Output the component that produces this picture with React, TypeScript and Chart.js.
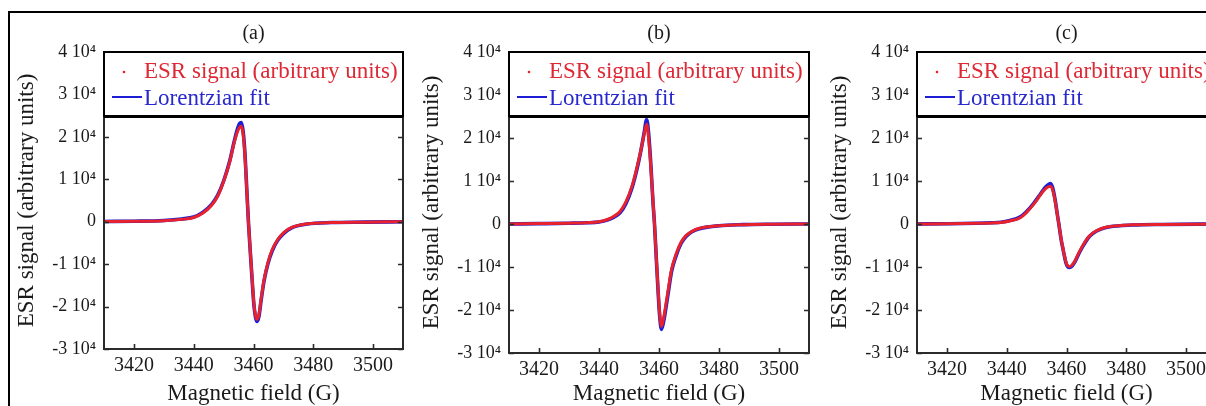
import React, { useEffect, useRef } from 'react';
import { Chart, registerables } from 'chart.js';

Chart.register(...registerables);

// ---- data ----
const xTicks = [3420, 3440, 3460, 3480, 3500];
const yTicks = [-30000, -20000, -10000, 0, 10000, 20000, 30000, 40000];
const xMin = 3410;
const xMax = 3510;
const yMin = -30000;
const yMax = 40000;

const panelTitles = ['(a)', '(b)', '(c)'];
const seriesLabels = ['ESR signal (arbitrary units)', 'Lorentzian fit'];
const xAxisTitle = 'Magnetic field (G)';
const yAxisTitle = 'ESR signal (arbitrary units)';

const fieldA = [3410, 3420, 3430, 3436, 3440, 3443, 3446, 3448, 3450, 3452, 3453.5, 3454.7, 3455.4, 3455.9, 3456.5, 3457.1, 3457.8, 3458.3, 3458.9, 3459.5, 3460.1, 3460.7, 3461.2, 3461.8, 3462.5, 3463.5, 3464.8, 3466.3, 3468.1, 3470.2, 3472.6, 3478, 3486, 3497, 3510];
const esrA = [50, 100, 250, 550, 1000, 2000, 3900, 6000, 9500, 14000, 18500, 21300, 22300, 22500, 20800, 16000, 6800, 0, -6600, -13000, -19000, -22200, -23000, -22000, -18400, -13800, -9700, -6500, -4200, -2500, -1400, -500, -200, -100, 0];
const fitA = [50, 120, 300, 650, 1100, 2200, 4100, 6200, 9600, 14200, 18800, 22000, 23200, 23400, 21500, 16500, 7000, 0, -6800, -13300, -19300, -22600, -23500, -22400, -18800, -14100, -10000, -6800, -4400, -2700, -1500, -550, -200, -100, 0];

const fieldB = [3410, 3420, 3430, 3436, 3440, 3443, 3445, 3447, 3449, 3451, 3452.7, 3454, 3455, 3455.9, 3456.6, 3457.3, 3458, 3458.5, 3459.1, 3459.7, 3460.2, 3460.8, 3461.5, 3462.9, 3464.2, 3465.7, 3467.3, 3469, 3471, 3473.5, 3480, 3488, 3498, 3510];
const esrB = [0, 100, 200, 300, 500, 1100, 1800, 2900, 5200, 8800, 13300, 17300, 20700, 23200, 19500, 13000, 5300, 0, -7800, -15200, -20500, -23800, -22000, -16000, -10500, -7000, -4300, -2700, -1700, -1000, -400, -150, -50, 0];
const fitB = [0, 80, 180, 280, 450, 950, 1600, 2600, 4800, 8400, 12900, 17200, 21000, 24300, 20600, 13600, 5000, 0, -8000, -15700, -21200, -24500, -22800, -16800, -11000, -7400, -4600, -2900, -1800, -1100, -400, -150, -50, 0];

const fieldC = [3410, 3420, 3430, 3435, 3438, 3441, 3444.4, 3446.5, 3448.9, 3450.8, 3452.2, 3453.5, 3454.7, 3455.5, 3456.2, 3456.9, 3457.5, 3458.2, 3459, 3459.8, 3460.4, 3461, 3461.8, 3462.9, 3464.2, 3465.7, 3467.3, 3469, 3471.5, 3474.5, 3482, 3492, 3510];
const esrC = [0, 50, 150, 250, 350, 700, 1400, 2600, 4500, 6300, 7600, 8500, 8800, 7600, 5300, 2300, -300, -3500, -6300, -8800, -9700, -9900, -9600, -8500, -6600, -4700, -3100, -2000, -1100, -600, -200, -100, 0];
const fitC = [0, 60, 170, 280, 400, 800, 1600, 2800, 4700, 6500, 7900, 8900, 9400, 8100, 5600, 2400, -300, -3600, -6400, -9000, -9900, -10100, -9800, -8700, -6800, -4900, -3200, -2100, -1200, -650, -250, -100, 0];

// ---- styles ----
const FONT = "'Liberation Serif', 'Times New Roman', serif";
const RED = 'rgb(232, 34, 44)';
const BLUE = 'rgb(30, 30, 215)';
const RED_TEXT = 'rgb(222, 40, 52)';
const BLUE_TEXT = 'rgb(40, 40, 205)';
const AXIS = '#2b2b2b';
const TEXT = '#1a1a1a';

const CANVAS_W = 400;
const CANVAS_H = 400;
const CANVAS_TOP = 12;
const Y_AXIS_W = 94;

type PanelProps = {
  title: string;
  field: number[];
  esr: number[];
  fit: number[];
  left: number;
  padRight: number;
  xH: number;
};

const fmtY = (v: number) => (v === 0 ? '0' : `${v / 10000} 10\u2074`);

function Panel({ title, field, esr, fit, left, padRight, xH }: PanelProps) {
  const ref = useRef<HTMLCanvasElement | null>(null);

  useEffect(() => {
    if (!ref.current) return;
    const framePlugin = {
      id: 'frameAndLegend',
      afterDatasetsDraw(chart: any) {
        const { ctx, chartArea: a, scales } = chart;
        ctx.save();
        // inner ticks
        const tl = 5;
        ctx.strokeStyle = AXIS;
        ctx.lineWidth = 1.6;
        ctx.beginPath();
        xTicks.forEach((v) => {
          const px = Math.round(scales.x.getPixelForValue(v)) + 0.5;
          ctx.moveTo(px, a.bottom);
          ctx.lineTo(px, a.bottom - tl);
          ctx.moveTo(px, a.top);
          ctx.lineTo(px, a.top + tl);
        });
        yTicks.forEach((v) => {
          const py = Math.round(scales.y.getPixelForValue(v)) + 0.5;
          ctx.moveTo(a.left, py);
          ctx.lineTo(a.left + tl, py);
          ctx.moveTo(a.right, py);
          ctx.lineTo(a.right - tl, py);
        });
        ctx.stroke();
        // plot frame
        ctx.lineWidth = 2;
        ctx.strokeRect(a.left, a.top, a.right - a.left, a.bottom - a.top);

        // legend box
        const lh = 64;
        ctx.fillStyle = '#ffffff';
        ctx.fillRect(a.left, a.top, a.right - a.left, lh);
        ctx.strokeStyle = '#000000';
        ctx.lineWidth = 2;
        ctx.strokeRect(a.left, a.top, a.right - a.left, lh);
        ctx.lineWidth = 1;
        ctx.beginPath();
        ctx.moveTo(a.left, a.top + lh + 1.5);
        ctx.lineTo(a.right, a.top + lh + 1.5);
        ctx.stroke();

        const ds = chart.data.datasets;
        // item 1: dot
        ctx.fillStyle = RED;
        ctx.beginPath();
        ctx.arc(a.left + 20, a.top + 20, 1.3, 0, Math.PI * 2);
        ctx.fill();
        // item 2: line
        ctx.strokeStyle = BLUE;
        ctx.lineWidth = 2;
        ctx.beginPath();
        ctx.moveTo(a.left + 8, a.top + 45);
        ctx.lineTo(a.left + 38, a.top + 45);
        ctx.stroke();

        ctx.font = `23px ${FONT}`;
        ctx.textBaseline = 'middle';
        ctx.textAlign = 'left';
        ctx.fillStyle = RED_TEXT;
        ctx.fillText(ds[0].label, a.left + 40, a.top + 20);
        ctx.fillStyle = BLUE_TEXT;
        ctx.fillText(ds[1].label, a.left + 40, a.top + 47);
        ctx.restore();
      },
    };

    const chart = new Chart(ref.current, {
      type: 'scatter',
      data: {
        datasets: [
          {
            label: seriesLabels[0],
            data: field.map((x, i) => ({ x, y: esr[i] })),
            showLine: true,
            borderColor: RED,
            backgroundColor: RED,
            borderWidth: 3,
            pointRadius: 0,
            cubicInterpolationMode: 'monotone',
          },
          {
            label: seriesLabels[1],
            data: field.map((x, i) => ({ x, y: fit[i] })),
            showLine: true,
            borderColor: BLUE,
            backgroundColor: BLUE,
            borderWidth: 3.6,
            pointRadius: 0,
            cubicInterpolationMode: 'monotone',
          },
        ],
      },
      options: {
        responsive: false,
        animation: false,
        devicePixelRatio: 1,
        layout: { padding: { left: 0, right: padRight, top: 0, bottom: 0 } },
        plugins: {
          legend: { display: false },
          tooltip: { enabled: false },
          title: {
            display: true,
            text: title,
            fullSize: false,
            color: TEXT,
            font: { family: FONT, size: 20, weight: 'normal' },
            padding: { top: 10, bottom: 6 },
          },
        },
        scales: {
          x: {
            type: 'linear',
            min: xMin,
            max: xMax,
            afterBuildTicks: (s: any) => {
              s.ticks = xTicks.map((v) => ({ value: v }));
            },
            afterFit: (s: any) => {
              s.height = xH;
            },
            grid: { display: false, drawTicks: false },
            border: { display: false },
            ticks: {
              autoSkip: false,
              maxRotation: 0,
              padding: 5,
              color: TEXT,
              font: { family: FONT, size: 20 },
              callback: (v: any) => String(v),
            },
            title: {
              display: true,
              text: xAxisTitle,
              color: TEXT,
              font: { family: FONT, size: 23 },
              padding: { top: 0, bottom: 4 },
            },
          },
          y: {
            type: 'linear',
            min: yMin,
            max: yMax,
            afterBuildTicks: (s: any) => {
              s.ticks = yTicks.map((v) => ({ value: v }));
            },
            afterFit: (s: any) => {
              s.width = Y_AXIS_W;
            },
            grid: { display: false, drawTicks: false },
            border: { display: false },
            ticks: {
              autoSkip: false,
              padding: 8,
              color: TEXT,
              font: { family: FONT, size: 18 },
              callback: (v: any) => fmtY(Number(v)),
            },
            title: {
              display: true,
              text: yAxisTitle,
              color: TEXT,
              font: { family: FONT, size: 23 },
              padding: { top: 3, bottom: 0 },
            },
          },
        },
      } as any,
      plugins: [framePlugin],
    });
    return () => chart.destroy();
  }, [title, field, esr, fit, padRight, xH]);

  return (
    <canvas
      ref={ref}
      width={CANVAS_W}
      height={CANVAS_H}
      style={{ position: 'absolute', left, top: CANVAS_TOP, width: CANVAS_W, height: CANVAS_H }}
    />
  );
}

export default function App() {
  return (
    <div
      style={{
        position: 'absolute',
        left: 0,
        top: 0,
        width: 1206,
        height: 406,
        overflow: 'hidden',
        background: '#ffffff',
      }}
    >
      <div
        style={{
          position: 'absolute',
          left: 8,
          top: 11,
          width: 1400,
          height: 600,
          borderTop: '2px solid #000',
          borderLeft: '2px solid #000',
          boxSizing: 'border-box',
        }}
      />
      <Panel title={panelTitles[0]} field={fieldA} esr={esrA} fit={fitA} left={10} padRight={7} xH={63} />
      <Panel title={panelTitles[1]} field={fieldB} esr={esrB} fit={fitB} left={415} padRight={6} xH={59} />
      <Panel title={panelTitles[2]} field={fieldC} esr={esrC} fit={fitC} left={823} padRight={7} xH={59} />
    </div>
  );
}
